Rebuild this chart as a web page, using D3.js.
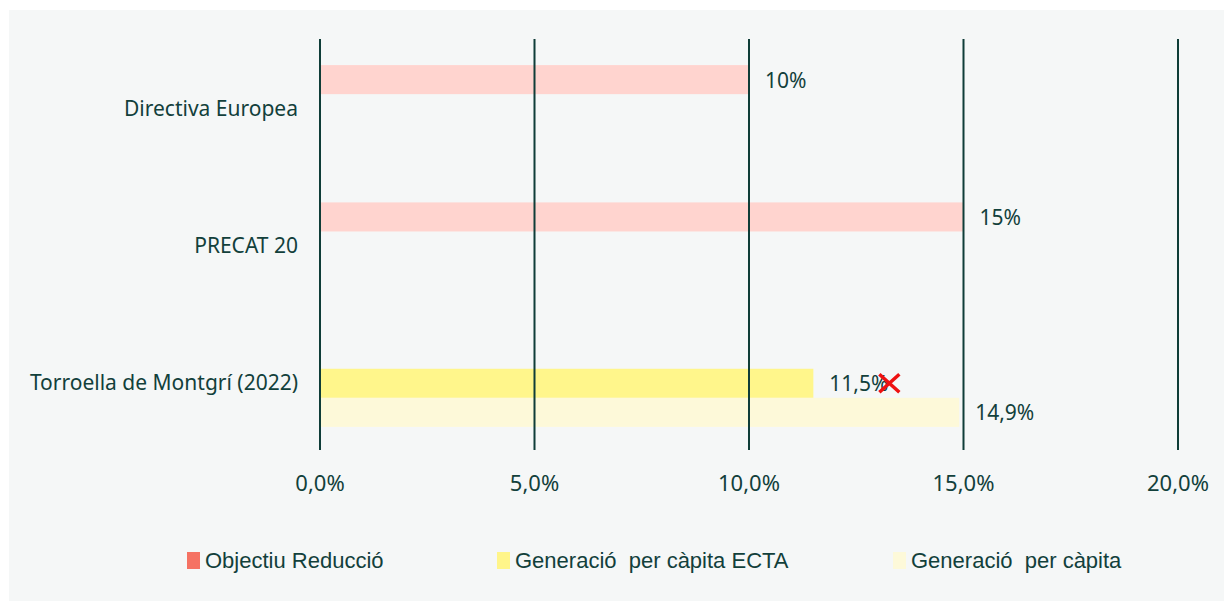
<!DOCTYPE html>
<html>
<head>
<meta charset="utf-8">
<script src="https://cdn.jsdelivr.net/npm/d3@7"></script>
<style>
  body { margin: 0; background: #ffffff; }
  text { font-family: "Noto Sans", "DejaVu Sans", sans-serif; fill: #12403b; }
</style>
</head>
<body>
<div id="chart"></div>
<script>
// data
var categories = ["Directiva Europea", "PRECAT 20", "Torroella de Montgrí (2022)"];
var seriesNames = ["Objectiu Reducció", "Generació  per càpita ECTA", "Generació  per càpita"];
var objectiuValues = [10, 15, null];
var ectaValues = [null, null, 11.5];
var capitaValues = [null, null, 14.9];
var valueLabels = [["10%", "15%", null], [null, null, "11,5%"], [null, null, "14,9%"]];
var xTicks = [0, 5, 10, 15, 20];

var barColors = ["#ffd4cf", "#fff68b", "#fdf9d9"];
var legendColors = ["#f57263", "#fff58a", "#fdf9d9"];

var W = 1224, H = 601;
var svg = d3.select("#chart")
  .append("svg")
    .attr("width", W)
    .attr("height", H);

// panel background
svg.append("rect")
  .attr("x", 9).attr("y", 10)
  .attr("width", W - 9).attr("height", H - 10)
  .attr("fill", "#f5f7f7");

var x = d3.scaleLinear()
  .domain([0, 20])
  .range([320, 1178]);

var y = d3.scaleBand()
  .domain(categories)
  .range([39, 453])
  .paddingInner(0.365)
  .paddingOuter(0.19);

var y1 = d3.scaleBand()
  .domain(d3.range(3))
  .range([0, y.bandwidth()]);

var allSeries = [objectiuValues, ectaValues, capitaValues];
// slot used by each series inside each category band
var slotOf = [
  [0, 0, 0],
  [1, 1, 1],
  [2, 2, 2]
];

function barY(s, i) {
  return y(categories[i]) + y1(slotOf[s][i]);
}

// bars
allSeries.forEach(function(vals, s) {
  svg.append("g")
    .selectAll("rect")
    .data(vals.map(function(v, i) { return {v: v, i: i}; }).filter(function(d) { return d.v != null; }))
    .enter()
    .append("rect")
      .attr("x", x(0))
      .attr("y", function(d) { return barY(s, d.i); })
      .attr("width", function(d) { return x(d.v) - x(0); })
      .attr("height", y1.bandwidth())
      .attr("fill", barColors[s]);
});

// vertical grid lines
svg.append("g")
  .selectAll("line")
  .data(xTicks)
  .enter()
  .append("line")
    .attr("x1", function(d) { return x(d); })
    .attr("x2", function(d) { return x(d); })
    .attr("y1", 39)
    .attr("y2", 450)
    .attr("stroke", "#0f3d38")
    .attr("stroke-width", 2);

// x axis labels
svg.append("g")
  .selectAll("text")
  .data(xTicks)
  .enter()
  .append("text")
    .attr("x", function(d) { return x(d); })
    .attr("y", 491)
    .attr("text-anchor", "middle")
    .style("font-size", "22px")
    .text(function(d) { return d.toFixed(1).replace(".", ",") + "%"; });

// category labels
svg.append("g")
  .selectAll("text")
  .data(categories)
  .enter()
  .append("text")
    .attr("x", 298)
    .attr("y", function(d) { return y(d) + y.bandwidth() / 2 + 7; })
    .attr("text-anchor", "end")
    .style("font-size", "21px")
    .text(function(d) { return d; });

// value labels
allSeries.forEach(function(vals, s) {
  svg.append("g")
    .selectAll("text")
    .data(vals.map(function(v, i) { return {v: v, i: i}; }).filter(function(d) { return d.v != null; }))
    .enter()
    .append("text")
      .attr("x", function(d) { return x(d.v) + 16; })
      .attr("y", function(d) { return barY(s, d.i) + y1.bandwidth() / 2 + 8; })
      .style("font-size", "21px")
      .text(function(d) { return valueLabels[s][d.i]; });
});

// red cross after the ECTA value
var crossX = x(ectaValues[2]) + 76;
var crossY = barY(1, 2) + y1.bandwidth() / 2;
svg.append("path")
  .attr("d", "M" + (crossX - 10) + "," + (crossY - 9) + "L" + (crossX + 10) + "," + (crossY + 9) +
             "M" + (crossX + 10) + "," + (crossY - 9) + "L" + (crossX - 10) + "," + (crossY + 9))
  .attr("stroke", "#ee1111")
  .attr("stroke-width", 3.5);

// legend
var legendX = [187, 497, 893];
var legend = svg.append("g")
  .selectAll("g")
  .data(seriesNames)
  .enter()
  .append("g")
    .attr("transform", function(d, i) { return "translate(" + legendX[i] + ",552)"; });
legend.append("rect")
  .attr("width", 13).attr("height", 17)
  .attr("fill", function(d, i) { return legendColors[i]; });
legend.append("text")
  .attr("x", 18)
  .attr("y", 16)
  .style("font-family", "'Liberation Sans', Arial, sans-serif")
  .style("font-size", "22px")
  .style("white-space", "pre")
  .text(function(d) { return d; });
</script>
</body>
</html>
